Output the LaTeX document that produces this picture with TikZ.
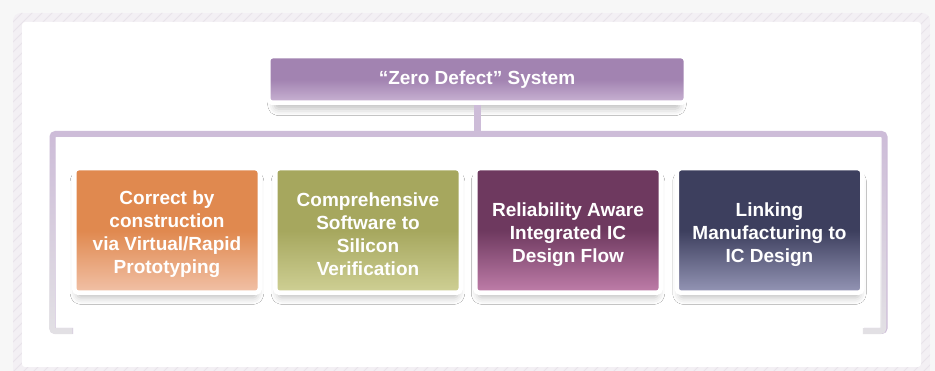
\documentclass[tikz,border=0pt]{standalone}
\usepackage{fontspec}
\setsansfont{Liberation Sans}
\usetikzlibrary{shadows.blur,fadings}

\definecolor{pagebg}{HTML}{F7F7F7}
\definecolor{bandbg}{HTML}{F3F0F4}
\definecolor{hatchln}{HTML}{E8E3EA}
\definecolor{brkpurple}{HTML}{CDBCD8}
\definecolor{brkgrey}{HTML}{E3E1E5}
\definecolor{zdtop}{HTML}{A283B1}
\definecolor{zdbot}{HTML}{CAB4D4}
\definecolor{cbctop}{HTML}{E0894F}
\definecolor{cbcbot}{HTML}{F1C1A7}
\definecolor{swtop}{HTML}{A6A75E}
\definecolor{swbot}{HTML}{CFD095}
\definecolor{reltop}{HTML}{6E395F}
\definecolor{relbot}{HTML}{C07EAA}
\definecolor{mfgtop}{HTML}{3D3F5E}
\definecolor{mfgbot}{HTML}{9596B6}

\tikzfading[name=fade up, top color=transparent!100, middle color=transparent!70,
  bottom color=transparent!0]

\newcommand{\lowerit}{\rule{0pt}{22pt}}

\begin{document}
\begin{tikzpicture}
  [x=1pt,y=-1pt,
   card/.style={shape=rectangle, rounded corners=4pt, draw=white, line width=4.5pt,
     align=center, text=white, font=\sffamily\bfseries\fontsize{19}{23}\selectfont,
     blur shadow={shadow xshift=0pt, shadow yshift=-7pt, shadow opacity=25,
       shadow blur radius=7pt, shadow scale=0.97}},
   pillar/.style={card, minimum width=185.5pt, minimum height=124.5pt},
   shadeit/.style 2 args={top color=#1, bottom color=#2, middle color=#1},
   brk/.style={line width=6pt, draw=brkpurple, rounded corners=3pt}]
  \useasboundingbox (0,0) rectangle (935,371);
  % panel
  \fill[pagebg] (0,0) rectangle (935,371);
  \begin{scope}
    \clip (0,0) rectangle (935,371);
    \clip[rounded corners=8pt] (13,13) rectangle (930,385);
    \fill[bandbg] (13,13) rectangle (930,385);
    \foreach \i in {-380,-370,...,930}
      \draw[hatchln, line width=0.8pt] (\i,385) -- ++(380,-380);
  \end{scope}
  \fill[white, rounded corners=3pt] (22,22) rectangle (921,367);

  % top of the tree
  \node[card, minimum width=417.5pt, minimum height=46.5pt, shadeit={zdtop}{zdbot}]
    (zd) at (477,79.5) {``Zero Defect'' System};

  % bracket
  \coordinate (lfoot) at (73,331);
  \coordinate (rfoot) at (864,331);
  \coordinate (lside) at (52.5,134);
  \coordinate (rside) at (884.5,134);
  \begin{scope}
    \draw[brk] (lfoot) -| (lside) -- (rside) |- (rfoot);
    \draw[brk, draw=brkgrey, path fading=fade up] (lfoot) -| (lside) -- (rside) |- (rfoot);
    \draw[brk, line width=7pt, rounded corners=0pt] (zd.south) -- (zd.south |- lside);
  \end{scope}

  % the four pillars
  \node[pillar, shadeit={cbctop}{cbcbot}] (cbc) at (167,230.5)
    {\lowerit Correct by\\construction\\via Virtual/Rapid\\Prototyping};
  \node[pillar, shadeit={swtop}{swbot}] (sw) at (368,230.5)
    {\lowerit Comprehensive\\Software to\\Silicon\\Verification};
  \node[pillar, shadeit={reltop}{relbot}] (rel) at (568,230.5)
    {\lowerit Reliability Aware\\Integrated IC\\Design Flow};
  \node[pillar, shadeit={mfgtop}{mfgbot}] (mfg) at (769.5,230.5)
    {\lowerit Linking\\Manufacturing to\\IC Design};
\end{tikzpicture}
\end{document}
